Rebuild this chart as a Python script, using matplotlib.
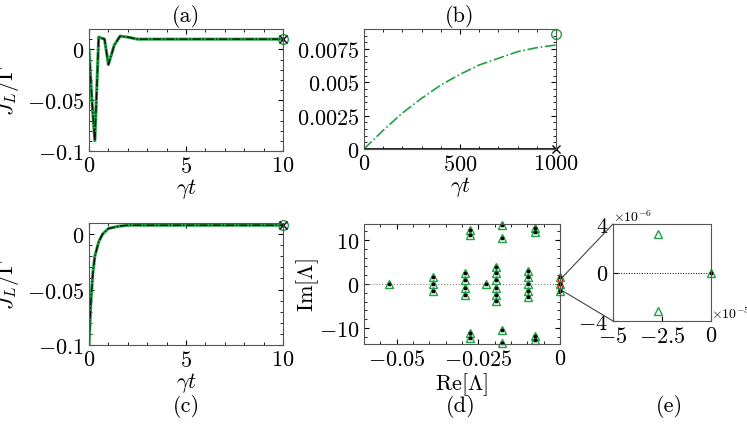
import matplotlib
matplotlib.use("Agg")
import matplotlib.pyplot as plt
import numpy as np
from matplotlib.patches import Rectangle, ConnectionPatch
from matplotlib.ticker import AutoMinorLocator

plt.rcParams.update({
    "font.family": "serif", "font.serif": ["cmr10"], "mathtext.fontset": "cm",
    "axes.formatter.use_mathtext": True, "font.size": 16,
    "xtick.direction": "in", "ytick.direction": "in",
    "xtick.top": True, "ytick.right": True,
    "axes.edgecolor": "#555555", "axes.linewidth": 0.8,
})

GREEN = "#1fa043"

# (a) transient current
ta = [0, 0.15, 0.3, 0.5, 0.8, 1.0, 1.3, 1.6, 2.0, 2.5, 3.0, 4, 6, 8, 10]
ja = [0, -0.05, -0.09, 0.012, 0.010, -0.015, 0.004, 0.013, 0.012, 0.010, 0.010, 0.010, 0.010, 0.010, 0.010]
# (b) slow current
tb = [0, 100, 200, 300, 400, 500, 600, 700, 800, 900, 1000]
jb = [0, 0.0014, 0.0027, 0.0038, 0.0048, 0.0056, 0.0063, 0.0068, 0.0073, 0.0076, 0.0078]
jb_end = 0.0086
# (c)
tc = [0, 0.1, 0.2, 0.3, 0.5, 0.7, 1.0, 1.5, 2.0, 3, 10]
jc = [-0.1, -0.06, -0.035, -0.02, -0.007, 0.0, 0.005, 0.007, 0.008, 0.008, 0.008]
# (d) spectrum
re_d = ([-0.0522, -0.0228] + [-0.039] * 3 + [-0.029] * 4 + [-0.0195] * 6 + [-0.0097] * 5 + [0] * 3
        + [-0.0275] * 4 + [-0.0178] * 4 + [-0.0078] * 4)
im_d = ([0, 0] + [1.6, 0, -1.6] + [2.4, 0.8, -0.8, -2.4] + [3.8, 2.5, 1, -1, -2.5, -3.8]
        + [3, 1.5, 0, -1.5, -3] + [1.6, 0, -1.6]
        + [12.3, 11.1, -11.1, -12.3] + [13.4, 10.4, -10.4, -13.4] + [12.7, 11.8, -11.8, -12.7])
# (e) zoom near origin
re_e = [-2.7e-5, -2.7e-5, 0]
im_e = [3.2e-6, -3.2e-6, 0]

fig = plt.figure(figsize=(7.47, 4.31), dpi=100)
W, H = 747, 431
def box(l, t, r, b):
    return [l / W, 1 - b / H, (r - l) / W, (b - t) / H]

def curve(ax, t, j):
    ax.plot(t, j, color=GREEN, lw=2.2)
    ax.plot(t, j, color="black", lw=0.9, ls="-.")

def ends(ax, x, yg, yk):
    ax.plot(x, yg, "o", mfc="none", mec=GREEN, ms=7, clip_on=False)
    ax.plot(x, yk, "x", color="black", ms=6, clip_on=False)

def minors(ax):
    ax.xaxis.set_minor_locator(AutoMinorLocator())
    ax.yaxis.set_minor_locator(AutoMinorLocator())
    ax.tick_params(which="minor", direction="in", length=2)

ax_a = fig.add_axes(box(89, 30, 283, 152))
curve(ax_a, ta, ja)
ends(ax_a, ta[-1], ja[-1], ja[-1])
ax_a.set_xlim(0, 10); ax_a.set_ylim(-0.1, 0.02)
ax_a.set_yticks([-0.1, -0.05, 0]); ax_a.set_xticks([0, 5, 10])
ax_a.set_yticklabels(["$-0.1$", "$-0.05$", "$0$"])
ax_a.set_xlabel(r"$\gamma t$", labelpad=0); ax_a.set_ylabel(r"$J_L/\Gamma$")
ax_a.set_title("(a)", fontsize=16)
minors(ax_a)

ax_b = fig.add_axes(box(364, 30, 556, 150))
ax_b.plot(tb, jb, color=GREEN, lw=1.2, ls="-.")
ax_b.plot([0, 1000], [0, 0], color="black", lw=1.2)
ends(ax_b, 1000, jb_end, 0)
ax_b.set_xlim(0, 1000); ax_b.set_ylim(0, 0.009)
ax_b.set_yticks([0, 0.0025, 0.005, 0.0075]); ax_b.set_xticks([0, 500, 1000])
ax_b.set_yticklabels(["$0$", "$0.0025$", "$0.005$", "$0.0075$"])
ax_b.set_xlabel(r"$\gamma t$", labelpad=0)
ax_b.set_title("(b)", fontsize=16)
minors(ax_b)

ax_c = fig.add_axes(box(89, 224, 283, 346))
curve(ax_c, tc, jc)
ends(ax_c, tc[-1], jc[-1], jc[-1])
ax_c.set_xlim(0, 10); ax_c.set_ylim(-0.1, 0.01)
ax_c.set_yticks([-0.1, -0.05, 0]); ax_c.set_xticks([0, 5, 10])
ax_c.set_yticklabels(["$-0.1$", "$-0.05$", "$0$"])
ax_c.set_xlabel(r"$\gamma t$", labelpad=0); ax_c.set_ylabel(r"$J_L/\Gamma$")
minors(ax_c)

ax_d = fig.add_axes(box(364, 225, 560, 345))
ax_d.axhline(0, color="gray", lw=0.8, ls=":")
ax_d.plot(re_d, im_d, "^", mfc="none", mec=GREEN, ms=5.5, clip_on=False)
ax_d.plot(re_d, im_d, "*", color="black", ms=2.5, clip_on=False)
ax_d.set_xlim(-0.06, 0); ax_d.set_ylim(-13.6, 13.6)
ax_d.set_xticks([-0.05, -0.025, 0]); ax_d.set_yticks([-10, 0, 10])
ax_d.set_xticklabels(["$-0.05$", "$-0.025$", "$0$"])
ax_d.set_yticklabels(["$-10$", "$0$", "$10$"])
ax_d.set_xlabel(r"$\mathrm{Re}[\Lambda]$", labelpad=1)
ax_d.set_ylabel(r"$\mathrm{Im}[\Lambda]$", labelpad=-2)
minors(ax_d)
rect = Rectangle((-0.0007, -1.5), 0.0014, 3, fill=False, ec="red", lw=0.8, clip_on=False)
ax_d.add_patch(rect)

ax_e = fig.add_axes(box(613, 225, 711, 322))
ax_e.axhline(0, color="black", lw=0.7, ls=":")
ax_e.plot(re_e, im_e, "^", mfc="none", mec=GREEN, ms=5.5, clip_on=False)
ax_e.plot(re_e[-1], im_e[-1], "*", color="black", ms=2.5, clip_on=False)
ax_e.set_xlim(-5e-5, 0); ax_e.set_ylim(-4e-6, 4e-6)
ax_e.set_xticks([-5e-5, -2.5e-5, 0]); ax_e.set_yticks([-4e-6, 0, 4e-6])
ax_e.set_xticklabels(["$-5$", "$-2.5$", "$0$"])
ax_e.set_yticklabels(["$-4$", "$0$", "$4$"])
ax_e.tick_params(top=False, right=False)
ax_e.text(0.0, 1.0, r"$\times10^{-6}$", transform=ax_e.transAxes, fontsize=10, va="bottom")
ax_e.text(1.0, 0.0, r"$\times10^{-5}$", transform=ax_e.transAxes, fontsize=10, va="bottom")

for xy_e in [(-5e-5, 4e-6), (-5e-5, -4e-6)]:
    yd = 1.5 if xy_e[1] > 0 else -1.5
    con = ConnectionPatch(xyA=(0.0007, yd), coordsA=ax_d.transData,
                          xyB=xy_e, coordsB=ax_e.transData, color="#444444", lw=0.8)
    fig.add_artist(con)

fig.text(186 / W, 1 - 407 / H, "(c)", ha="center", va="center", fontsize=16)
fig.text(461 / W, 1 - 407 / H, "(d)", ha="center", va="center", fontsize=16)
fig.text(669 / W, 1 - 407 / H, "(e)", ha="center", va="center", fontsize=16)

fig.savefig("out.png", dpi=100)
